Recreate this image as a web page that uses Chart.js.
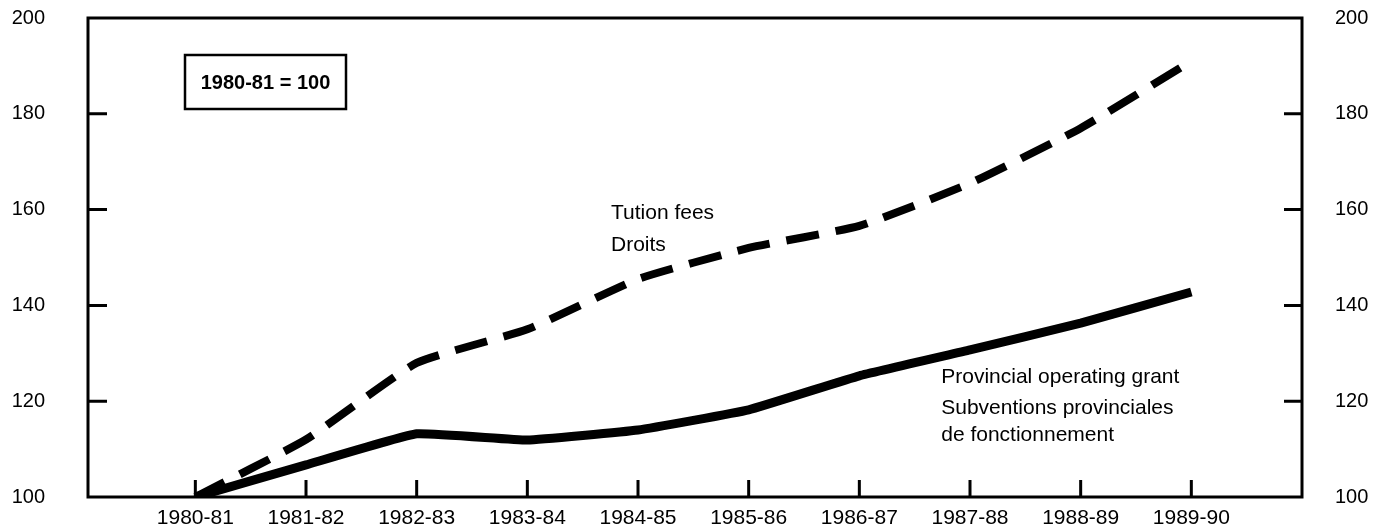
<!DOCTYPE html>
<html>
<head>
<meta charset="utf-8">
<script src="https://cdn.jsdelivr.net/npm/chart.js@4/dist/chart.umd.min.js"></script>
<style>
html,body{margin:0;padding:0;background:#fff;}
#wrap{width:1374px;height:528px;position:relative;}
</style>
</head>
<body>
<div id="wrap"><canvas id="c" width="1374" height="528"></canvas></div>
<script>
const categories = ["1980-81","1981-82","1982-83","1983-84","1984-85","1985-86","1986-87","1987-88","1988-89","1989-90"];
const tuitionFees = [100, 112, 128, 135, 145.5, 152, 156.6, 165.5, 177, 191];
const operatingGrant = [100, 106.7, 113.2, 111.9, 114, 118.2, 125.3, 130.7, 136.3, 142.8];
const yTicks = [100, 120, 140, 160, 180, 200];
const baseLabel = "1980-81 = 100";
const tuitionLabel = ["Tution fees", "Droits"];
const grantLabel = ["Provincial operating grant", "Subventions provinciales", "de fonctionnement"];

const FONT = "'Liberation Sans', Arial, Helvetica, sans-serif";

const framePlugin = {
  id: 'frame',
  afterDraw(chart) {
    const ctx = chart.ctx;
    const a = chart.chartArea;
    const xs = chart.scales.x, ys = chart.scales.y;
    ctx.save();
    ctx.strokeStyle = '#000';
    ctx.lineWidth = 3;
    ctx.strokeRect(a.left, a.top, a.right - a.left, a.bottom - a.top);
    // inward ticks
    ctx.lineWidth = 3;
    ctx.beginPath();
    categories.forEach((c, i) => {
      const px = xs.getPixelForValue(i);
      ctx.moveTo(px, a.bottom);
      ctx.lineTo(px, a.bottom - 17);
    });
    yTicks.forEach(v => {
      if (v === 100 || v === 200) return;
      const py = ys.getPixelForValue(v);
      ctx.moveTo(a.left, py); ctx.lineTo(a.left + 19, py);
      ctx.moveTo(a.right, py); ctx.lineTo(a.right - 18, py);
    });
    ctx.stroke();
    // base box
    const bx = 185, by = 55, bw = 161, bh = 54;
    ctx.lineWidth = 2.5;
    ctx.strokeRect(bx, by, bw, bh);
    ctx.fillStyle = '#000';
    ctx.font = 'bold 20px ' + FONT;
    ctx.textAlign = 'center';
    ctx.textBaseline = 'middle';
    ctx.fillText(baseLabel, bx + bw / 2, by + bh / 2 + 1);
    // series labels anchored to data coordinates
    ctx.font = '21px ' + FONT;
    ctx.textAlign = 'left';
    ctx.fillText(tuitionLabel[0], xs.getPixelForValue(3.756), ys.getPixelForValue(159.3));
    ctx.fillText(tuitionLabel[1], xs.getPixelForValue(3.756), ys.getPixelForValue(152.6));
    ctx.fillText(grantLabel[0], xs.getPixelForValue(6.74), ys.getPixelForValue(125.05));
    ctx.fillText(grantLabel[1], xs.getPixelForValue(6.74), ys.getPixelForValue(118.6));
    ctx.fillText(grantLabel[2], xs.getPixelForValue(6.74), ys.getPixelForValue(112.9));
    ctx.restore();
  }
};

function fixVertical(w) {
  return function(scale) {
    scale.width = w;
    scale.paddingTop = 0;
    scale.paddingBottom = 0;
  };
}

new Chart(document.getElementById('c'), {
  type: 'line',
  data: {
    datasets: [
      {
        label: 'Tuition fees',
        data: tuitionFees.map((v, i) => ({x: i, y: v})),
        borderColor: '#000',
        borderWidth: 8,
        borderDash: [33, 17],
        borderCapStyle: 'butt',
        pointRadius: 0,
        tension: 0.15,
        fill: false
      },
      {
        label: 'Provincial operating grant',
        data: operatingGrant.map((v, i) => ({x: i, y: v})),
        borderColor: '#000',
        borderWidth: 9,
        borderJoinStyle: 'round',
        pointRadius: 0,
        tension: 0.1,
        fill: false
      }
    ]
  },
  plugins: [framePlugin],
  options: {
    responsive: false,
    animation: false,
    layout: {padding: {top: 18, left: 0, right: 0, bottom: 0}},
    plugins: {legend: {display: false}, tooltip: {enabled: false}},
    scales: {
      x: {
        type: 'linear',
        min: -0.97,
        max: 10,
        grid: {display: false, drawTicks: false},
        border: {display: false},
        afterBuildTicks(scale) { scale.ticks = categories.map((c, i) => ({value: i})); },
        afterFit(scale) { scale.height = 31; scale.paddingLeft = 0; scale.paddingRight = 0; },
        ticks: {
          autoSkip: false,
          maxRotation: 0,
          padding: 9,
          color: '#000',
          font: {family: FONT, size: 21},
          callback: (v) => categories[v]
        }
      },
      y: {
        position: 'left',
        min: 100, max: 200,
        grid: {display: false, drawTicks: false},
        border: {display: false},
        afterBuildTicks(scale) { scale.ticks = yTicks.map(v => ({value: v})); },
        afterFit: fixVertical(88),
        ticks: {padding: 43, color: '#000', font: {family: FONT, size: 20}}
      },
      y2: {
        position: 'right',
        min: 100, max: 200,
        grid: {display: false, drawTicks: false},
        border: {display: false},
        afterBuildTicks(scale) { scale.ticks = yTicks.map(v => ({value: v})); },
        afterFit: fixVertical(72),
        ticks: {padding: 33, color: '#000', font: {family: FONT, size: 20}}
      }
    }
  }
});
</script>
</body>
</html>
